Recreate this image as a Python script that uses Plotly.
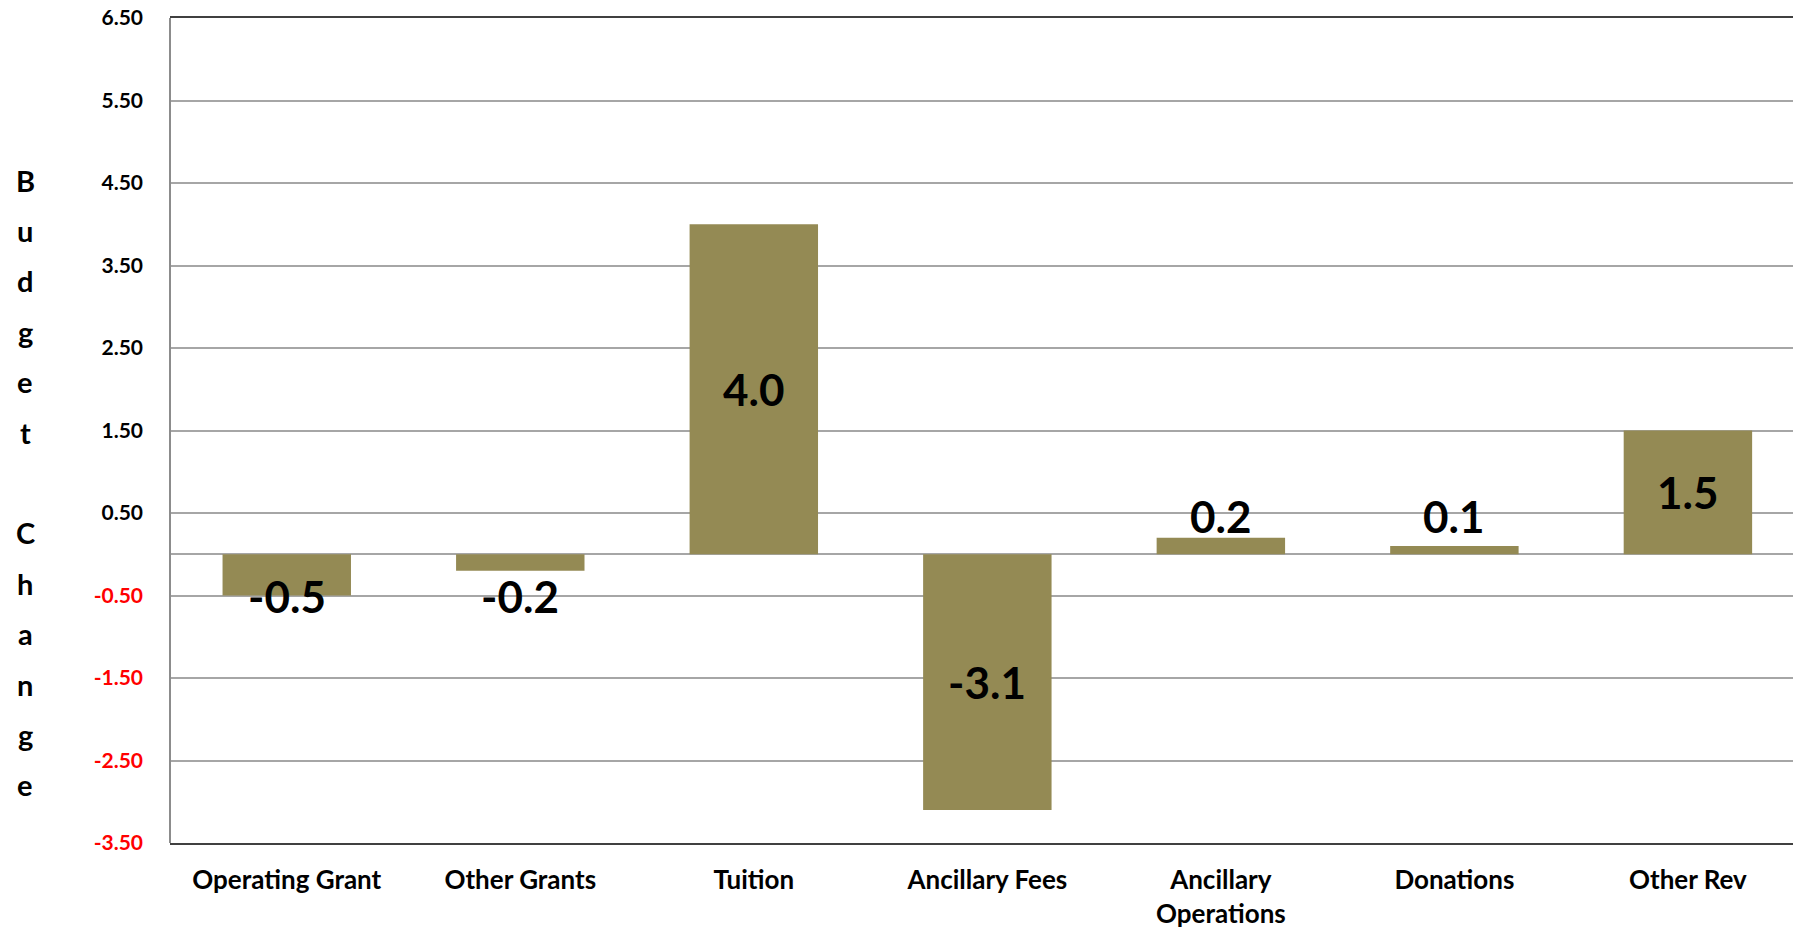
import plotly.graph_objects as go
import numpy as np

categories = ["Operating Grant", "Other Grants", "Tuition", "Ancillary Fees",
              "Ancillary<br>Operations", "Donations", "Other Rev"]
values = [-0.5, -0.2, 4.0, -3.1, 0.2, 0.1, 1.5]
tick_vals = [6.5, 5.5, 4.5, 3.5, 2.5, 1.5, 0.5, -0.5, -1.5, -2.5, -3.5]
axis_title = "Budget Change"

BAR = "#948A54"
FONT = "Lato"

W, H = 1793, 930
L, T, B = 170, 18, 87
plot_h = H - T - B

tick_text = [(f"<span style='color:#FF0000'>{v:.2f}</span>" if v < 0 else f"{v:.2f}")
             for v in tick_vals]

fig = go.Figure()
fig.add_trace(go.Bar(
    x=list(range(len(categories))), y=values,
    marker=dict(color=BAR, line=dict(width=0)),
    hoverinfo="skip",
))

# value labels
for i, v in enumerate(values):
    if abs(v) >= 1:
        ly = v / 2
    else:
        ly = 0.46 if v > 0 else -0.5
    fig.add_annotation(x=i, y=ly, xref="x", yref="y", text=f"{v:.1f}",
                       showarrow=False, xanchor="center", yanchor="middle",
                       font=dict(family=FONT, size=44, color="#000000", weight="bold"))

# stacked vertical axis title
top_px, step_px = 180, 50.4
for k, ch in enumerate(axis_title):
    if ch == " ":
        continue
    py = top_px + k * step_px
    fig.add_annotation(x=0, xref="paper", xshift=-(L - 25), y=(H - B - py) / plot_h,
                       yref="paper", text=ch, showarrow=False, xanchor="center",
                       yanchor="middle",
                       font=dict(family=FONT, size=29, color="#000000", weight="bold"))

fig.update_layout(
    width=W, height=H,
    margin=dict(l=L, r=0, t=T, b=B, pad=0),
    paper_bgcolor="white", plot_bgcolor="white",
    bargap=0.45, showlegend=False,
    font=dict(family=FONT, color="#000000"),
)
fig.update_xaxes(
    range=[-0.5, 6.45],
    tickmode="array", tickvals=list(range(len(categories))), ticktext=categories,
    tickfont=dict(family=FONT, size=26, color="#000000", weight="bold"),
    showgrid=False, zeroline=False,
    showline=True, linecolor="#404040", linewidth=2, mirror=True,
    ticks="", ticklabelstandoff=13,
)
fig.update_yaxes(
    range=[-3.5, 6.5],
    tickmode="array", tickvals=tick_vals, ticktext=tick_text,
    tickfont=dict(family=FONT, size=21, color="#000000", weight="bold"),
    showgrid=True, gridcolor="#A6A6A6", gridwidth=1.5,
    zeroline=True, zerolinecolor="#A6A6A6", zerolinewidth=1.5,
    showline=False, ticks="", ticklabelstandoff=26,
)
fig.add_shape(type="line", xref="paper", yref="paper", x0=0, x1=0, y0=0, y1=1,
              line=dict(color="#8C8C8C", width=2), layer="above")

fig.write_html("out.html")
